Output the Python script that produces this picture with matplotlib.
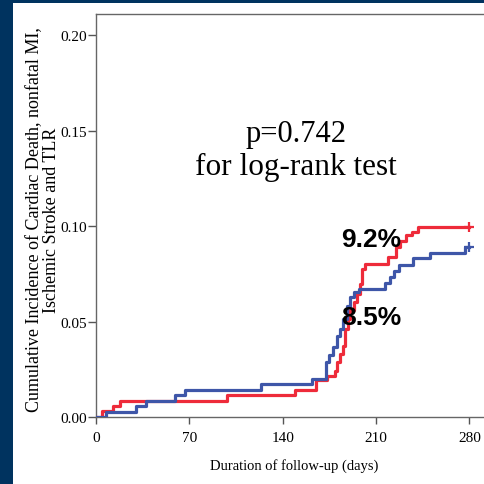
import matplotlib
matplotlib.use("Agg")
import matplotlib.pyplot as plt
from matplotlib.patches import Rectangle


# Kaplan-Meier style cumulative incidence, step points (day, incidence)
red_days = [0, 4.3, 12.8, 18.0, 98.1, 149.4, 164.9, 173.2, 179.4, 181.1, 183.2, 185.2,
            186.9, 188.7, 190.7, 193.2, 195.7, 197.7, 199.5, 202.0, 218.8, 225.2, 228.2,
            232.7, 237.0, 241.2, 280]
red_inc = [0, 0.003, 0.006, 0.0085, 0.0115, 0.014, 0.0195, 0.0217, 0.0243, 0.0286, 0.033,
           0.0373, 0.0461, 0.0513, 0.056, 0.0601, 0.0644, 0.0696, 0.0775, 0.080, 0.0839,
           0.0888, 0.0922, 0.0953, 0.0966, 0.0995, 0.0995]

blue_days = [0, 7.5, 29.8, 37.5, 58.9, 66.8, 123.9, 161.9, 172.7, 175.1, 178.1, 180.7,
             183.2, 185.6, 188.2, 190.7, 193.2, 196.9, 216.9, 220.7, 223.7, 227.5, 238.0,
             250.7, 277.0, 280]
blue_inc = [0, 0.0028, 0.0056, 0.0085, 0.0115, 0.0143, 0.0173, 0.0199, 0.0286, 0.0325,
            0.0365, 0.0426, 0.0461, 0.0513, 0.0583, 0.0627, 0.0653, 0.067, 0.0699, 0.0731,
            0.0763, 0.0795, 0.0833, 0.0857, 0.0889, 0.0889]

x_ticks = [0, 70, 140, 210, 280]
y_ticks = [0.00, 0.05, 0.10, 0.15, 0.20]
y_tick_labels = ["0.00", "0.05", "0.10", "0.15", "0.20"]

RED = "#ee2b3a"
BLUE = "#3e56a8"
NAVY = "#00335f"
SERIF = "Liberation Serif"


fig = plt.figure(figsize=(4.85, 4.85), dpi=100)
fig.patch.set_facecolor(NAVY)
# white slide panel, kept behind the axes
fig.patches.append(Rectangle((13 / 485, 0), 1, 1 - 4 / 485, transform=fig.transFigure,
                             facecolor="white", edgecolor="none", zorder=-5))

ax = fig.add_axes([96 / 485, 67 / 485, 396 / 485, 403 / 485])
ax.set_zorder(2)
ax.set_xlim(0, 297)
ax.set_ylim(0, 0.211)

ax.step(red_days, red_inc, where="post", color=RED, lw=2.3, zorder=3)
ax.step(blue_days, blue_inc, where="post", color=BLUE, lw=2.3, zorder=4)
ax.plot(red_days[-1], red_inc[-1], "+", color=RED, ms=7, mew=1.6, zorder=5)
ax.plot(blue_days[-1], blue_inc[-1], "+", color=BLUE, ms=7, mew=1.6, zorder=5)

ax.set_xticks(x_ticks)
ax.set_xticklabels([str(t) for t in x_ticks], fontfamily=SERIF, fontsize=11)
ax.set_yticks(y_ticks)
ax.set_yticklabels(y_tick_labels, fontfamily=SERIF, fontsize=11)
ax.tick_params(axis="x", direction="out", length=5, width=1, color="#555555", pad=5)
ax.tick_params(axis="y", direction="out", length=5.5, width=1, color="#555555", pad=1)

for side in ["left", "bottom", "top"]:
    ax.spines[side].set_color("#666666")
    ax.spines[side].set_linewidth(1)
ax.spines["right"].set_visible(False)

ax.set_xlabel("Duration of follow-up (days)", fontfamily=SERIF, fontsize=10.5, labelpad=10)
fig.text(43 / 485, 1 - 220 / 485,
         "Cumulative Incidence of Cardiac Death, nonfatal MI,\nIschemic Stroke and TLR",
         rotation=90, ha="center", va="center", multialignment="center",
         fontfamily=SERIF, fontsize=13, linespacing=1.0)

ax.text(150, 0.1445, "p=0.742", ha="center", va="baseline", fontfamily=SERIF, fontsize=22)
ax.text(150, 0.1272, "for log-rank test", ha="center", va="baseline", fontfamily=SERIF,
        fontsize=22.5)

ax.text(206.4, 0.0897, "9.2%", ha="center", va="baseline", fontfamily="Liberation Sans",
        fontweight="bold", fontsize=19, zorder=6)
ax.text(206.4, 0.0487, "8.5%", ha="center", va="baseline", fontfamily="Liberation Sans",
        fontweight="bold", fontsize=19, zorder=6)

fig.savefig("out.png", dpi=100, facecolor=fig.get_facecolor())
